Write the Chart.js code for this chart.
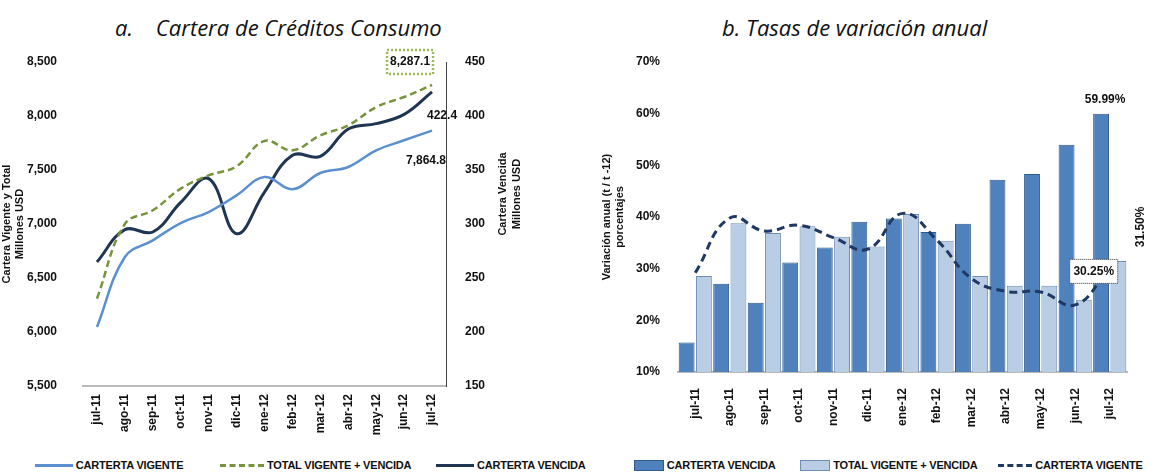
<!DOCTYPE html>
<html><head><meta charset="utf-8">
<script src="https://cdn.jsdelivr.net/npm/chart.js@4.4.1/dist/chart.umd.min.js"></script>
<style>
body{margin:0;width:1155px;height:473px;overflow:hidden;background:#fff;font-family:'Liberation Sans Narrow','Liberation Sans',sans-serif;position:relative}
.title{position:absolute;top:12px;font:italic 22px 'Open Sans','Liberation Sans',sans-serif;color:#111}
.box{position:absolute;top:0}
.legend{position:absolute;top:458px;font:bold 11px 'Liberation Sans Narrow','Liberation Sans',sans-serif;color:#111;white-space:nowrap;letter-spacing:-0.2px}
.legend span{display:inline-block;vertical-align:middle}
</style></head><body>
<div class="title" style="left:115px">a.&nbsp;&nbsp;&nbsp; Cartera de Créditos Consumo</div>
<div class="title" style="left:722px">b. Tasas de variación anual</div>
<div class="box" style="left:0;width:580px;height:445px"><canvas id="left"></canvas></div>
<div class="box" style="left:600px;width:555px;height:445px"><canvas id="right"></canvas></div>
<div class="legend" style="left:35px">
  <span style="width:38px;border-top:3px solid #5b8fd0"></span> <span>CARTERTA VIGENTE</span>
  <span style="width:44px;border-top:3px dashed #77933c;margin-left:34px"></span> <span>TOTAL VIGENTE + VENCIDA</span>
  <span style="width:38px;border-top:3px solid #1f3552;margin-left:22px"></span> <span>CARTERTA VENCIDA</span>
</div>
<div class="legend" style="left:634px">
  <span style="width:28px;height:9px;background:#4f81bd;border:1px solid #2f5a8c"></span> <span>CARTERTA VENCIDA</span>
  <span style="width:28px;height:9px;background:#b9cde5;border:1px solid #6f8db5;margin-left:22px"></span> <span>TOTAL VIGENTE + VENCIDA</span>
  <span style="width:34px;border-top:3px dashed #1f3864;margin-left:18px"></span> <span>CARTERTA VIGENTE</span>
</div>
<script>
const months = ['jul-11','ago-11','sep-11','oct-11','nov-11','dic-11','ene-12','feb-12','mar-12','abr-12','may-12','jun-12','jul-12'];

// chart a (millones USD)
const vigente = [6046, 6694, 6849, 7009, 7111, 7265, 7435, 7321, 7472, 7528, 7682, 7775, 7864.8];
const totalVV = [6309, 7000, 7127, 7327, 7450, 7534, 7769, 7682, 7821, 7914, 8083, 8176, 8287.1];
const vencida = [264.8, 294.8, 292.6, 320, 342, 291, 329.6, 363.6, 362.7, 388, 392.9, 401.5, 422.4];

// chart b (variacion anual %)
const varVencida = [15.7, 27.1, 23.4, 31.2, 34.1, 39.1, 39.7, 37.1, 38.7, 47.2, 48.3, 54.0, 59.99];
const varTotal = [28.6, 38.8, 36.9, 38.2, 36.2, 34.3, 40.6, 35.4, 28.6, 26.7, 26.7, 24.0, 31.5];
const varVigente = [29.2, 39.8, 37.3, 38.4, 36.0, 33.8, 40.7, 35.5, 28.1, 25.6, 25.5, 23.0, 30.25];

const FONT = "'Liberation Sans Narrow','Liberation Sans',sans-serif";
const tickFont = { family: FONT, size: 12, weight: 'bold' };
Chart.defaults.color = '#111';
Chart.defaults.animation = false;

function fixWidth(w) { return s => { s.width = w; }; }
function fixHeight(h) { return s => { s.height = h; }; }

// labels drawn on top of chart a
const leftLabels = {
  id: 'leftLabels',
  afterDatasetsDraw(chart) {
    const c = chart.ctx, x = chart.scales.x, yl = chart.scales.y, yr = chart.scales.y2;
    const px = x.getPixelForValue(12);
    c.save();
    c.font = 'bold 12px ' + FONT;
    c.fillStyle = '#111';
    c.textBaseline = 'middle';
    const ty = yl.getPixelForValue(totalVV[12]) - 23;
    c.strokeStyle = '#9bbb59'; c.lineWidth = 2.5; c.setLineDash([2, 2]);
    c.strokeRect(px - 45, ty - 12, 46, 24);
    c.setLineDash([]);
    c.textAlign = 'center';
    c.fillText(totalVV[12].toLocaleString('en-US', { minimumFractionDigits: 1 }), px - 22, ty);
    c.fillText(vencida[12].toFixed(1), px + 10, yr.getPixelForValue(vencida[12]) + 24);
    c.textAlign = 'right';
    c.fillText(vigente[12].toLocaleString('en-US', { minimumFractionDigits: 1 }), px + 14, yl.getPixelForValue(vigente[12]) + 30);
    // right axis title, reading bottom-up
    c.font = 'bold 11px ' + FONT;
    c.textAlign = 'center';
    c.translate(510, (chart.chartArea.top + chart.chartArea.bottom) / 2 - 30);
    c.rotate(-Math.PI / 2);
    c.fillText('Cartera Vencida', 0, -7);
    c.fillText('Millones USD', 0, 7);
    c.restore();
  }
};

new Chart(document.getElementById('left'), {
  type: 'line',
  data: {
    labels: months,
    datasets: [
      { label: 'CARTERTA VIGENTE', data: vigente, yAxisID: 'y', borderColor: '#5b8fd0', borderWidth: 2.5, tension: 0.4, pointRadius: 0 },
      { label: 'TOTAL VIGENTE + VENCIDA', data: totalVV, yAxisID: 'y', borderColor: '#77933c', borderWidth: 2.5, borderDash: [7, 4], tension: 0.4, pointRadius: 0 },
      { label: 'CARTERTA VENCIDA', data: vencida, yAxisID: 'y2', borderColor: '#1f3552', borderWidth: 3, tension: 0.4, pointRadius: 0 }
    ]
  },
  options: {
    responsive: true, maintainAspectRatio: false,
    layout: { padding: { top: 62, right: 0, left: 0, bottom: 0 } },
    plugins: { legend: { display: false }, tooltip: { enabled: false } },
    scales: {
      x: {
        offset: true, grid: { display: false, drawTicks: false }, border: { color: '#bbb', width: 2 },
        ticks: { font: tickFont, maxRotation: 90, minRotation: 90, padding: 8 },
        afterFit: fixHeight(59)
      },
      y: {
        min: 5500, max: 8500, grid: { display: false }, border: { display: false },
        ticks: { stepSize: 500, font: tickFont, padding: 18 },
        title: { display: true, text: ['Cartera Vigente y Total', 'Millones USD'], font: { family: FONT, size: 11, weight: 'bold' }, padding: 0 },
        afterFit: fixWidth(83)
      },
      y2: {
        position: 'right', min: 150, max: 450, grid: { display: false, drawTicks: true, tickLength: 5, color: '#444' },
        border: { color: '#444', width: 1 },
        ticks: { stepSize: 50, font: tickFont, padding: 14 },
        afterFit: fixWidth(134)
      }
    }
  },
  plugins: [leftLabels]
});

// labels drawn on top of chart b
const rightLabels = {
  id: 'rightLabels',
  afterDatasetsDraw(chart) {
    const c = chart.ctx, y = chart.scales.y;
    const m0 = chart.getDatasetMeta(0).data[12], m1 = chart.getDatasetMeta(1).data[12], m2 = chart.getDatasetMeta(2).data[12];
    c.save();
    c.font = 'bold 12px ' + FONT;
    c.fillStyle = '#111';
    c.textAlign = 'center'; c.textBaseline = 'middle';
    c.fillText(varVencida[12].toFixed(2) + '%', m0.x + 4, y.getPixelForValue(varVencida[12]) - 14);
    const ly = y.getPixelForValue(varVigente[12]) + 4;
    const lx = m2.x - 16;
    c.fillStyle = '#fff'; c.fillRect(lx - 24, ly - 12, 48, 24);
    c.strokeStyle = '#333'; c.lineWidth = 1; c.setLineDash([1, 1]);
    c.strokeRect(lx - 24, ly - 12, 48, 24); c.setLineDash([]);
    c.fillStyle = '#111';
    c.fillText(varVigente[12].toFixed(2) + '%', lx, ly);
    c.translate(m1.x + 22, y.getPixelForValue(varTotal[12]) - 34);
    c.rotate(-Math.PI / 2);
    c.fillText(varTotal[12].toFixed(2) + '%', 0, 0);
    c.restore();
  }
};

new Chart(document.getElementById('right'), {
  data: {
    labels: months,
    datasets: [
      { type: 'bar', label: 'CARTERTA VENCIDA', data: varVencida, backgroundColor: '#4f81bd', borderColor: '#2f5a8c', borderWidth: 1, categoryPercentage: 1.0, barPercentage: 0.92, order: 2 },
      { type: 'bar', label: 'TOTAL VIGENTE + VENCIDA', data: varTotal, backgroundColor: '#b9cde5', borderColor: '#6f8db5', borderWidth: 1, categoryPercentage: 1.0, barPercentage: 0.92, order: 2 },
      { type: 'line', label: 'CARTERTA VIGENTE', data: varVigente, borderColor: '#1f3864', borderWidth: 3, borderDash: [8, 5], tension: 0.45, pointRadius: 0, order: 1 }
    ]
  },
  options: {
    responsive: true, maintainAspectRatio: false,
    layout: { padding: { top: 62, right: 0, left: 0, bottom: 0 } },
    plugins: { legend: { display: false }, tooltip: { enabled: false } },
    scales: {
      x: {
        grid: { display: false, drawTicks: false }, border: { color: '#bbb', width: 2 },
        ticks: { font: tickFont, maxRotation: 90, minRotation: 90, padding: 16 },
        afterFit: fixHeight(73)
      },
      y: {
        min: 10, max: 70, grid: { display: false }, border: { display: false },
        ticks: { stepSize: 10, font: tickFont, padding: 10, callback: v => v + '%' },
        title: { display: true, text: ['Variación anual (t / t -12)', 'porcentajes'], font: { family: FONT, size: 11, weight: 'bold' }, padding: 0 },
        afterFit: fixWidth(78)
      },
      yr: { display: false, afterFit: fixWidth(28), position: 'right' }
    }
  },
  plugins: [rightLabels]
});
</script>
</body></html>
